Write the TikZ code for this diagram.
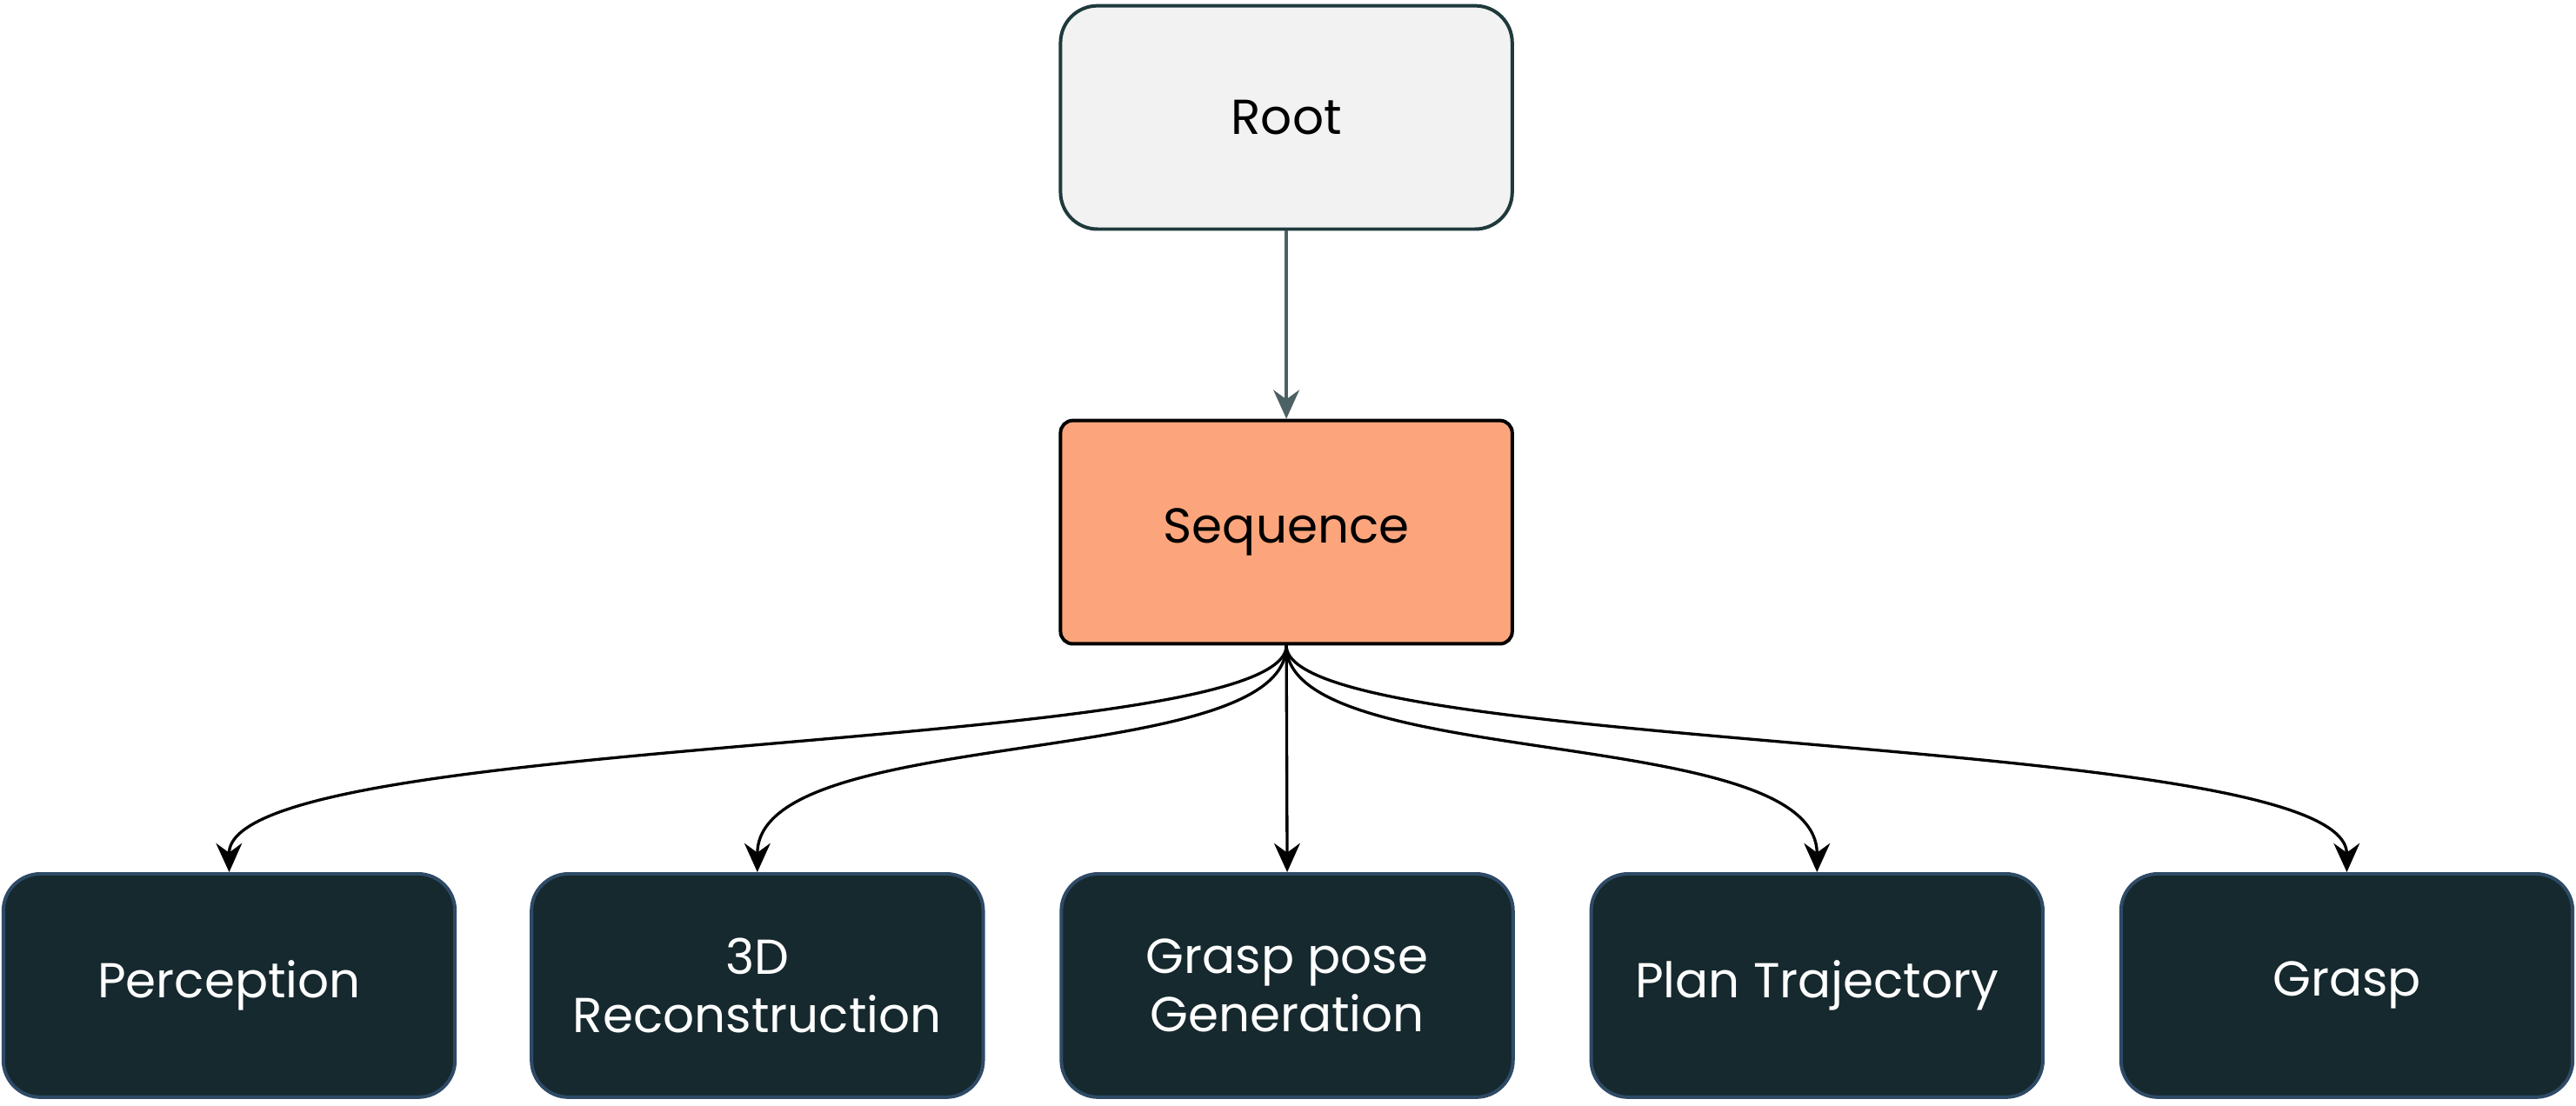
\documentclass[tikz,border=0pt]{standalone}
\usepackage{fontspec}
\setmainfont{Poppins}
\usetikzlibrary{arrows.meta}
\begin{document}
\begin{tikzpicture}[x=0.02cm,y=-0.02cm,
  box/.style={rounded corners=0.45cm,minimum width=5.5cm,minimum height=2.72cm,line width=1.2pt,align=center,font=\fontsize{17}{20}\selectfont},
  leaf/.style={box,fill=leafc,draw=leafb,text=white},
  arr/.style={-{Stealth[length=10pt,width=9pt]},line width=1pt}]
\definecolor{leafc}{HTML}{15292E}
\definecolor{leafb}{HTML}{2E4A66}
\definecolor{rootc}{HTML}{F2F2F2}
\definecolor{rootb}{HTML}{1F3A3D}
\definecolor{seqc}{HTML}{FCA57C}
\useasboundingbox (0,0) rectangle (1568,673);
\node[box,fill=rootc,draw=rootb] (root) at (783,71.5) {Root};
\node[box,fill=seqc,draw=black,rounded corners=0.15cm] (seq) at (783,324) {Sequence};
\node[leaf] (p) at (139.5,600) {Perception};
\node[leaf] (r) at (461,600) {3D\\Reconstruction};
\node[leaf] (g) at (783.5,600) {Grasp pose\\Generation};
\node[leaf] (t) at (1106,600) {Plan Trajectory};
\node[leaf] (gr) at (1428.5,600) {Grasp};
\draw[arr,draw=rootb!80,line width=1pt] (root) -- (seq);
\draw[arr] (seq.south) .. controls (783,460) and (139,445) .. (p.north);
\draw[arr] (seq.south) .. controls (783,470) and (461,440) .. (r.north);
\draw[arr] (seq.south) -- (g.north);
\draw[arr] (seq.south) .. controls (783,470) and (1106,440) .. (t.north);
\draw[arr] (seq.south) .. controls (783,460) and (1428,445) .. (gr.north);
\end{tikzpicture}
\end{document}
